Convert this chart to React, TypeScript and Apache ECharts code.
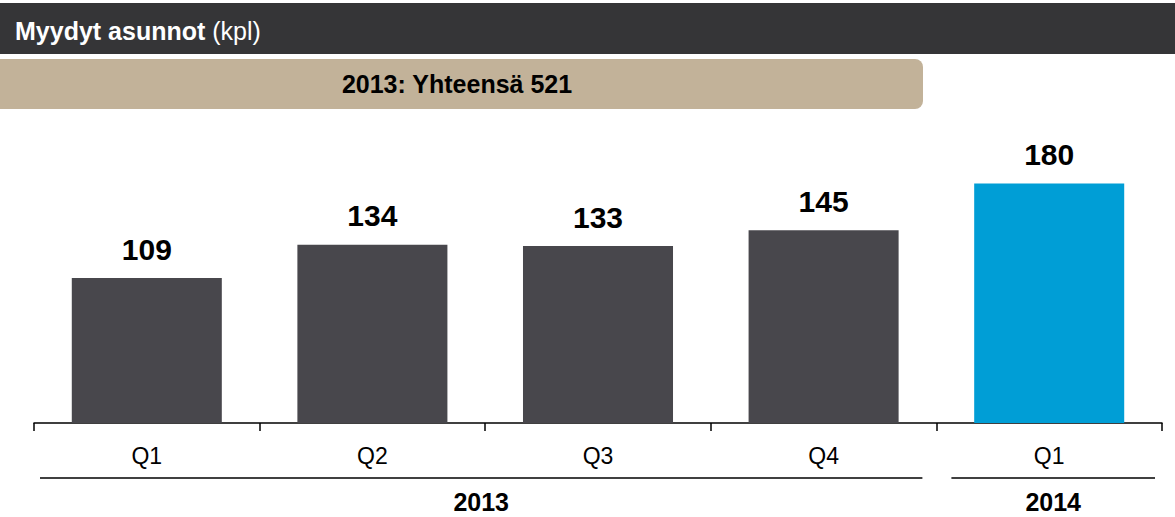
import React, { useEffect, useRef } from "react";
import * as echarts from "echarts";

const categories = ["Q1", "Q2", "Q3", "Q4", "Q1"];
const values = [109, 134, 133, 145, 180];
const barColors = ["#48474c", "#48474c", "#48474c", "#48474c", "#009ed6"];
const yearGroups = [
  { label: "2013", from: 0, to: 3 },
  { label: "2014", from: 4, to: 4 },
];
const titleBold = "Myydyt asunnot";
const titleNormal = " (kpl)";
const bannerText = "2013: Yhteensä 521";

const FONT = "'Liberation Sans', Arial, sans-serif";

export default function App() {
  const ref = useRef<HTMLDivElement>(null);
  useEffect(() => {
    if (!ref.current) return;
    const chart = echarts.init(ref.current, undefined, { renderer: "svg" });
    const option: any = {
      animation: false,
      textStyle: { fontFamily: FONT },
      grid: { left: 34, right: 13, top: 157, bottom: 94 },
      xAxis: {
        type: "category",
        data: categories,
        axisLine: { lineStyle: { color: "#000", width: 1.5 } },
        axisTick: { show: true, length: 8, lineStyle: { color: "#000", width: 1.5 } },
        axisLabel: { color: "#000", fontSize: 23, margin: 21, fontFamily: FONT },
      },
      yAxis: {
        type: "value",
        min: 0,
        max: 200,
        show: false,
        splitLine: { show: false },
      },
      series: [
        {
          type: "bar",
          barWidth: "66.5%",
          data: values.map((v, i) => ({ value: v, itemStyle: { color: barColors[i] } })),
          label: {
            show: true,
            position: "top",
            distance: 14,
            color: "#000",
            fontSize: 30,
            fontWeight: "bold",
            fontFamily: FONT,
          },
        },
      ],
    };
    chart.setOption(option);

    const step = chart.convertToPixel({ xAxisIndex: 0 }, 1) - chart.convertToPixel({ xAxisIndex: 0 }, 0);
    const graphics: any[] = [
      {
        type: "rect",
        shape: { x: 0, y: 3, width: 1175, height: 51 },
        style: { fill: "#353537" },
        silent: true,
      },
      {
        type: "text",
        x: 15,
        y: 31,
        style: {
          text: "{b|" + titleBold + "}{n|" + titleNormal + "}",
          verticalAlign: "middle",
          rich: {
            b: { fill: "#fff", fontSize: 25, fontWeight: "bold", fontFamily: FONT },
            n: { fill: "#fff", fontSize: 25, fontFamily: FONT },
          },
        },
      },
      {
        type: "rect",
        shape: { x: -12, y: 59, width: 935, height: 50, r: 8 },
        style: { fill: "#c2b299" },
        silent: true,
      },
      {
        type: "text",
        x: 457,
        y: 84,
        style: {
          text: bannerText,
          fill: "#000",
          fontSize: 25,
          fontWeight: "bold",
          fontFamily: FONT,
          align: "center",
          verticalAlign: "middle",
        },
      },
    ];
    yearGroups.forEach((g, gi) => {
      const c0 = chart.convertToPixel({ xAxisIndex: 0 }, g.from);
      const c1 = chart.convertToPixel({ xAxisIndex: 0 }, g.to);
      const x0 = c0 - step / 2 + (gi === 0 ? 6 : 15);
      const x1 = c1 + step / 2 - (gi === 0 ? 14 : 7);
      graphics.push({
        type: "line",
        shape: { x1: x0, y1: 478, x2: x1, y2: 478 },
        style: { stroke: "#000", lineWidth: 1.5 },
      });
      graphics.push({
        type: "text",
        x: (x0 + x1) / 2,
        y: 502,
        style: {
          text: g.label,
          fill: "#000",
          fontSize: 25,
          fontWeight: "bold",
          fontFamily: FONT,
          align: "center",
          verticalAlign: "middle",
        },
      });
    });
    chart.setOption({ graphic: graphics });
    return () => chart.dispose();
  }, []);
  return (
    <div
      ref={ref}
      style={{ position: "absolute", left: 0, top: 0, width: 1175, height: 517 }}
    />
  );
}
